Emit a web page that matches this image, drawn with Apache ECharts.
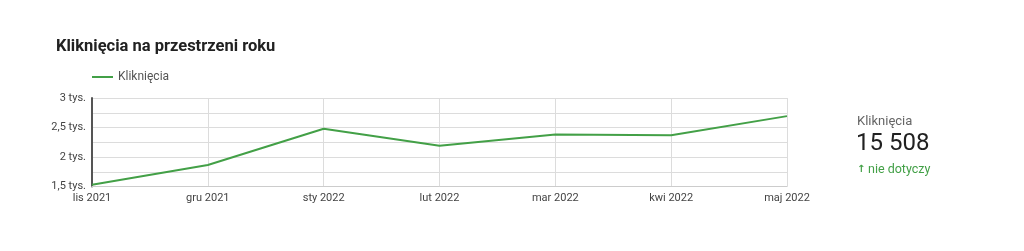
<!DOCTYPE html>
<html>
<head>
<meta charset="utf-8">
<script src="https://cdn.jsdelivr.net/npm/echarts@6/dist/echarts.min.js"></script>
<style>
html,body{margin:0;padding:0;background:#fff;}
#c{width:1024px;height:251px;}
</style>
</head>
<body>
<div id="c"></div>
<script>
const categories = ['lis 2021','gru 2021','sty 2022','lut 2022','mar 2022','kwi 2022','maj 2022'];
const clicks = [1530, 1865, 2480, 2190, 2380, 2370, 2693];
const yTickLabels = {1500:'1,5 tys.',2000:'2 tys.',2500:'2,5 tys.',3000:'3 tys.'};
const seriesName = 'Kliknięcia';
const titleText = 'Kliknięcia na przestrzeni roku';
const kpiLabel = 'Kliknięcia';
const kpiValue = '15 508';
const kpiChange = 'nie dotyczy';

const green = '#43a047';
const chart = echarts.init(document.getElementById('c'), null, {renderer:'canvas'});
chart.setOption({
  animation:false,
  textStyle:{fontFamily:'Roboto'},
  title:{text:titleText,left:56,top:38,padding:0,textStyle:{fontSize:16.5,fontWeight:'bold',color:'#212121',fontFamily:'Roboto'}},
  legend:{data:[seriesName],left:92,top:71,padding:0,icon:'rect',itemWidth:21,itemHeight:2,itemGap:6,
    textStyle:{fontSize:12,color:'#555',fontFamily:'Roboto'}},
  grid:{left:92,right:237,top:98,bottom:64.5},
  xAxis:{type:'category',data:categories,boundaryGap:false,
    axisLine:{show:true,lineStyle:{color:'#ccc'}},axisTick:{show:false},
    splitLine:{show:true,lineStyle:{color:'#dcdcdc'}},
    axisLabel:{fontSize:11,color:'#444',margin:6,fontFamily:'Roboto',showMinLabel:true,showMaxLabel:true,interval:0}},
  yAxis:{type:'value',min:1500,max:3000,interval:250,
    axisLine:{show:true,lineStyle:{color:'#555',width:2}},axisTick:{show:false},
    splitLine:{show:true,lineStyle:{color:'#dcdcdc'}},
    axisLabel:{fontSize:11,color:'#444',margin:6,fontFamily:'Roboto',
      formatter:v=>yTickLabels[v]||''}},
  series:[{name:seriesName,type:'line',data:clicks,symbol:'none',
    lineStyle:{color:green,width:2},itemStyle:{color:green}}],
  graphic:[
    {type:'text',left:857,top:115,style:{text:kpiLabel,fontSize:13,fill:'#666',fontFamily:'Roboto'}},
    {type:'text',left:856,top:132,style:{text:kpiValue,fontSize:24,fill:'#212121',fontFamily:'Roboto'}},
    {type:'text',left:857,top:164,style:{text:'\u2191',fontSize:10,fontWeight:'bold',fill:green,fontFamily:'DejaVu Sans'}},
    {type:'text',left:868,top:163,style:{text:kpiChange,fontSize:12.5,fill:green,fontFamily:'Roboto'}}
  ]
});
</script>
</body>
</html>
